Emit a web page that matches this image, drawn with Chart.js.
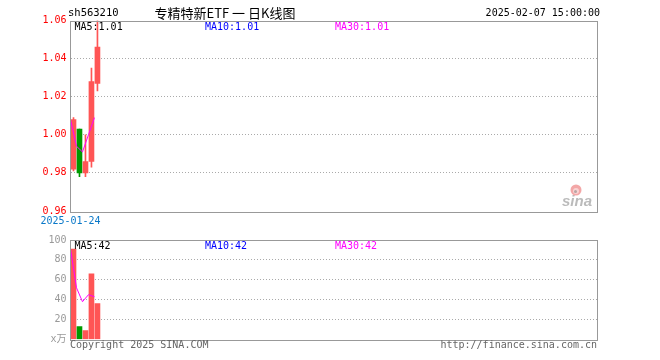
<!DOCTYPE html>
<html>
<head>
<meta charset="utf-8">
<script src="https://cdn.jsdelivr.net/npm/chart.js@4.4.1/dist/chart.umd.min.js"></script>
<style>
html, body { margin: 0; padding: 0; background: #fff; }
#wrap { position: relative; width: 660px; height: 360px; }
#wrap canvas { position: absolute; left: 0; }
</style>
</head>
<body>
<div id="wrap">
    <canvas id="kline" width="660" height="230" style="top:0"></canvas>
    <canvas id="vol" width="660" height="130" style="top:230px"></canvas>
</div>
<script>
// five trading days so far, the axis leaves room for about 88
const DATES = ['2025-01-24', '2025-01-27', '2025-02-05', '2025-02-06', '2025-02-07'];
const OPEN = [0.982, 1.003, 0.980, 0.986, 1.027];
const CLOSE = [1.008, 0.980, 0.986, 1.028, 1.046];
const HIGH = [1.009, 1.003, 1.000, 1.035, 1.060];
const LOW = [0.981, 0.978, 0.978, 0.983, 1.023];
const MA5 = [1.008, 0.994, 0.991, 1.000, 1.009];
const VOL = [91, 13, 9, 66, 36];          // x万
const VOL_MA5 = [91, 52, 38, 45, 43];
const SLOTS = 88;
const PRICE_MIN = 0.96, PRICE_MAX = 1.06, PRICE_STEP = 0.02;
const VOL_MIN = 0, VOL_MAX = 100, VOL_STEP = 20;

const UP = '#ff5555';
const DOWN = '#009900';
const MONO = "'DejaVu Sans Mono', 'Noto Sans CJK SC', monospace";
const colors = OPEN.map((o, i) => (CLOSE[i] >= o ? UP : DOWN));

const frame = {
    id: 'frame',
    afterDatasetsDraw(chart) {
        const { ctx, chartArea: a } = chart;
        ctx.save();
        ctx.strokeStyle = '#999';
        ctx.lineWidth = 1;
        ctx.strokeRect(Math.round(a.left) - 0.5, Math.round(a.top) + 0.5,
            Math.round(a.right - a.left), Math.round(a.bottom - a.top));
        ctx.restore();
    },
};

function text(ctx, s, x, y, color, align, font) {
    ctx.fillStyle = color;
    ctx.textAlign = align || 'left';
    ctx.textBaseline = 'middle';
    ctx.font = font || ('10px ' + MONO);
    ctx.fillText(s, x, y);
}

const gridColor = (lo, hi) => (c) => {
    const v = c.tick.value;
    return (Math.abs(v - lo) < 1e-6 || Math.abs(v - hi) < 1e-6) ? 'rgba(0,0,0,0)' : '#aaa';
};

new Chart(document.getElementById('kline'), {
    type: 'bar',
    data: {
        datasets: [
            {
                // wicks
                data: DATES.map((d, i) => ({ x: i, y: [LOW[i], HIGH[i]] })),
                backgroundColor: colors,
                barThickness: 1,
                grouped: false,
                order: 2,
            },
            {
                // bodies
                data: DATES.map((d, i) => ({ x: i, y: [OPEN[i], CLOSE[i]] })),
                backgroundColor: colors,
                barThickness: 5,
                grouped: false,
                order: 1,
            },
            {
                type: 'line',
                xAxisID: 'xm',
                data: MA5.map((v, i) => ({ x: i, y: v })),
                borderColor: '#ff00ff',
                borderWidth: 1,
                pointRadius: 0,
                tension: 0,
                order: 0,
            },
        ],
    },
    options: {
        animation: false,
        responsive: false,
        events: [],
        layout: { padding: { left: 0, right: 62.5, top: 20.5, bottom: 0 } },
        plugins: { legend: { display: false }, tooltip: { enabled: false } },
        scales: {
            x: { type: 'linear', min: -0.5, max: SLOTS - 0.5, offset: false, display: false },
            xm: {
                type: 'linear', position: 'bottom', min: 0, max: SLOTS, offset: false,
                grid: { display: false, drawTicks: false },
                border: { display: false },
                afterBuildTicks: (ax) => { ax.ticks = [{ value: 0 }]; },
                afterFit: (ax) => { ax.height = 19; },
                ticks: {
                    autoSkip: false, maxRotation: 0, padding: 4,
                    color: '#0a78c8', font: { family: MONO, size: 10 },
                    callback: (v) => (v === 0 ? DATES[0] : ''),
                },
            },
            y: {
                min: PRICE_MIN, max: PRICE_MAX,
                afterFit: (ax) => { ax.width = 70.5; },
                grid: { color: gridColor(PRICE_MIN, PRICE_MAX), drawTicks: false },
                border: { display: false, dash: [1, 2] },
                ticks: {
                    stepSize: PRICE_STEP, padding: 4, color: '#ff0000',
                    font: { family: MONO, size: 10 },
                    callback: (v) => v.toFixed(2),
                },
            },
        },
    },
    plugins: [frame, {
        id: 'labels',
        beforeDatasetsDraw(chart) {
            const ctx = chart.ctx;
            ctx.save();
            text(ctx, 'MA5:1.01', 74.5, 27, '#000');
            text(ctx, 'MA10:1.01', 205, 27, '#0000ff');
            text(ctx, 'MA30:1.01', 335, 27, '#ff00ff');
            ctx.restore();
        },
        afterDraw(chart) {
            const ctx = chart.ctx;
            ctx.save();
            text(ctx, 'sh563210', 68, 13, '#000', 'left', '10.5px ' + MONO);
            text(ctx, '专精特新ETF 一 日K线图', 225, 13, '#000', 'center', "13px 'Noto Sans CJK SC', sans-serif");
            text(ctx, '2025-02-07 15:00:00', 600, 13, '#000', 'right');
            // sina watermark
            ctx.globalAlpha = 0.5;
            ctx.fillStyle = '#e85050';
            ctx.beginPath();
            ctx.arc(576, 190, 5.5, 0, Math.PI * 2);
            ctx.fill();
            ctx.fillStyle = '#fff';
            ctx.beginPath();
            ctx.arc(576, 191, 3, 0, Math.PI * 2);
            ctx.fill();
            ctx.fillStyle = '#777';
            ctx.beginPath();
            ctx.arc(575.5, 191.5, 1.5, 0, Math.PI * 2);
            ctx.fill();
            text(ctx, 'sina', 577, 202, '#777', 'center', "italic bold 15px 'Liberation Sans', sans-serif");
            ctx.restore();
        },
    }],
});

new Chart(document.getElementById('vol'), {
    type: 'bar',
    data: {
        datasets: [
            {
                data: VOL.map((v, i) => ({ x: i, y: v })),
                backgroundColor: colors,
                barThickness: 5,
                grouped: false,
                order: 1,
            },
            {
                type: 'line',
                xAxisID: 'xm',
                data: VOL_MA5.map((v, i) => ({ x: i, y: v })),
                borderColor: '#ff00ff',
                borderWidth: 1,
                pointRadius: 0,
                tension: 0,
                order: 0,
            },
        ],
    },
    options: {
        animation: false,
        responsive: false,
        events: [],
        layout: { padding: { left: 0, right: 62.5, top: 10, bottom: 20.5 } },
        plugins: { legend: { display: false }, tooltip: { enabled: false } },
        scales: {
            x: { type: 'linear', min: -0.5, max: SLOTS - 0.5, offset: false, display: false },
            xm: { type: 'linear', min: 0, max: SLOTS, offset: false, display: false },
            y: {
                min: VOL_MIN, max: VOL_MAX,
                afterFit: (ax) => { ax.width = 70.5; },
                grid: { color: gridColor(VOL_MIN, VOL_MAX), drawTicks: false },
                border: { display: false, dash: [1, 2] },
                ticks: {
                    stepSize: VOL_STEP, padding: 4, color: '#999',
                    font: { family: MONO, size: 10 },
                    callback: (v) => (v === 0 ? 'x万' : v),
                },
            },
        },
    },
    plugins: [frame, {
        id: 'labels',
        afterDraw(chart) {
            const ctx = chart.ctx;
            ctx.save();
            text(ctx, 'MA5:42', 74.5, 16.5, '#000');
            text(ctx, 'MA10:42', 205, 16.5, '#0000ff');
            text(ctx, 'MA30:42', 335, 16.5, '#ff00ff');
            text(ctx, 'Copyright 2025 SINA.COM', 70, 115.5, '#666');
            text(ctx, 'http://finance.sina.com.cn', 597, 115.5, '#666', 'right');
            ctx.restore();
        },
    }],
});
</script>
</body>
</html>
